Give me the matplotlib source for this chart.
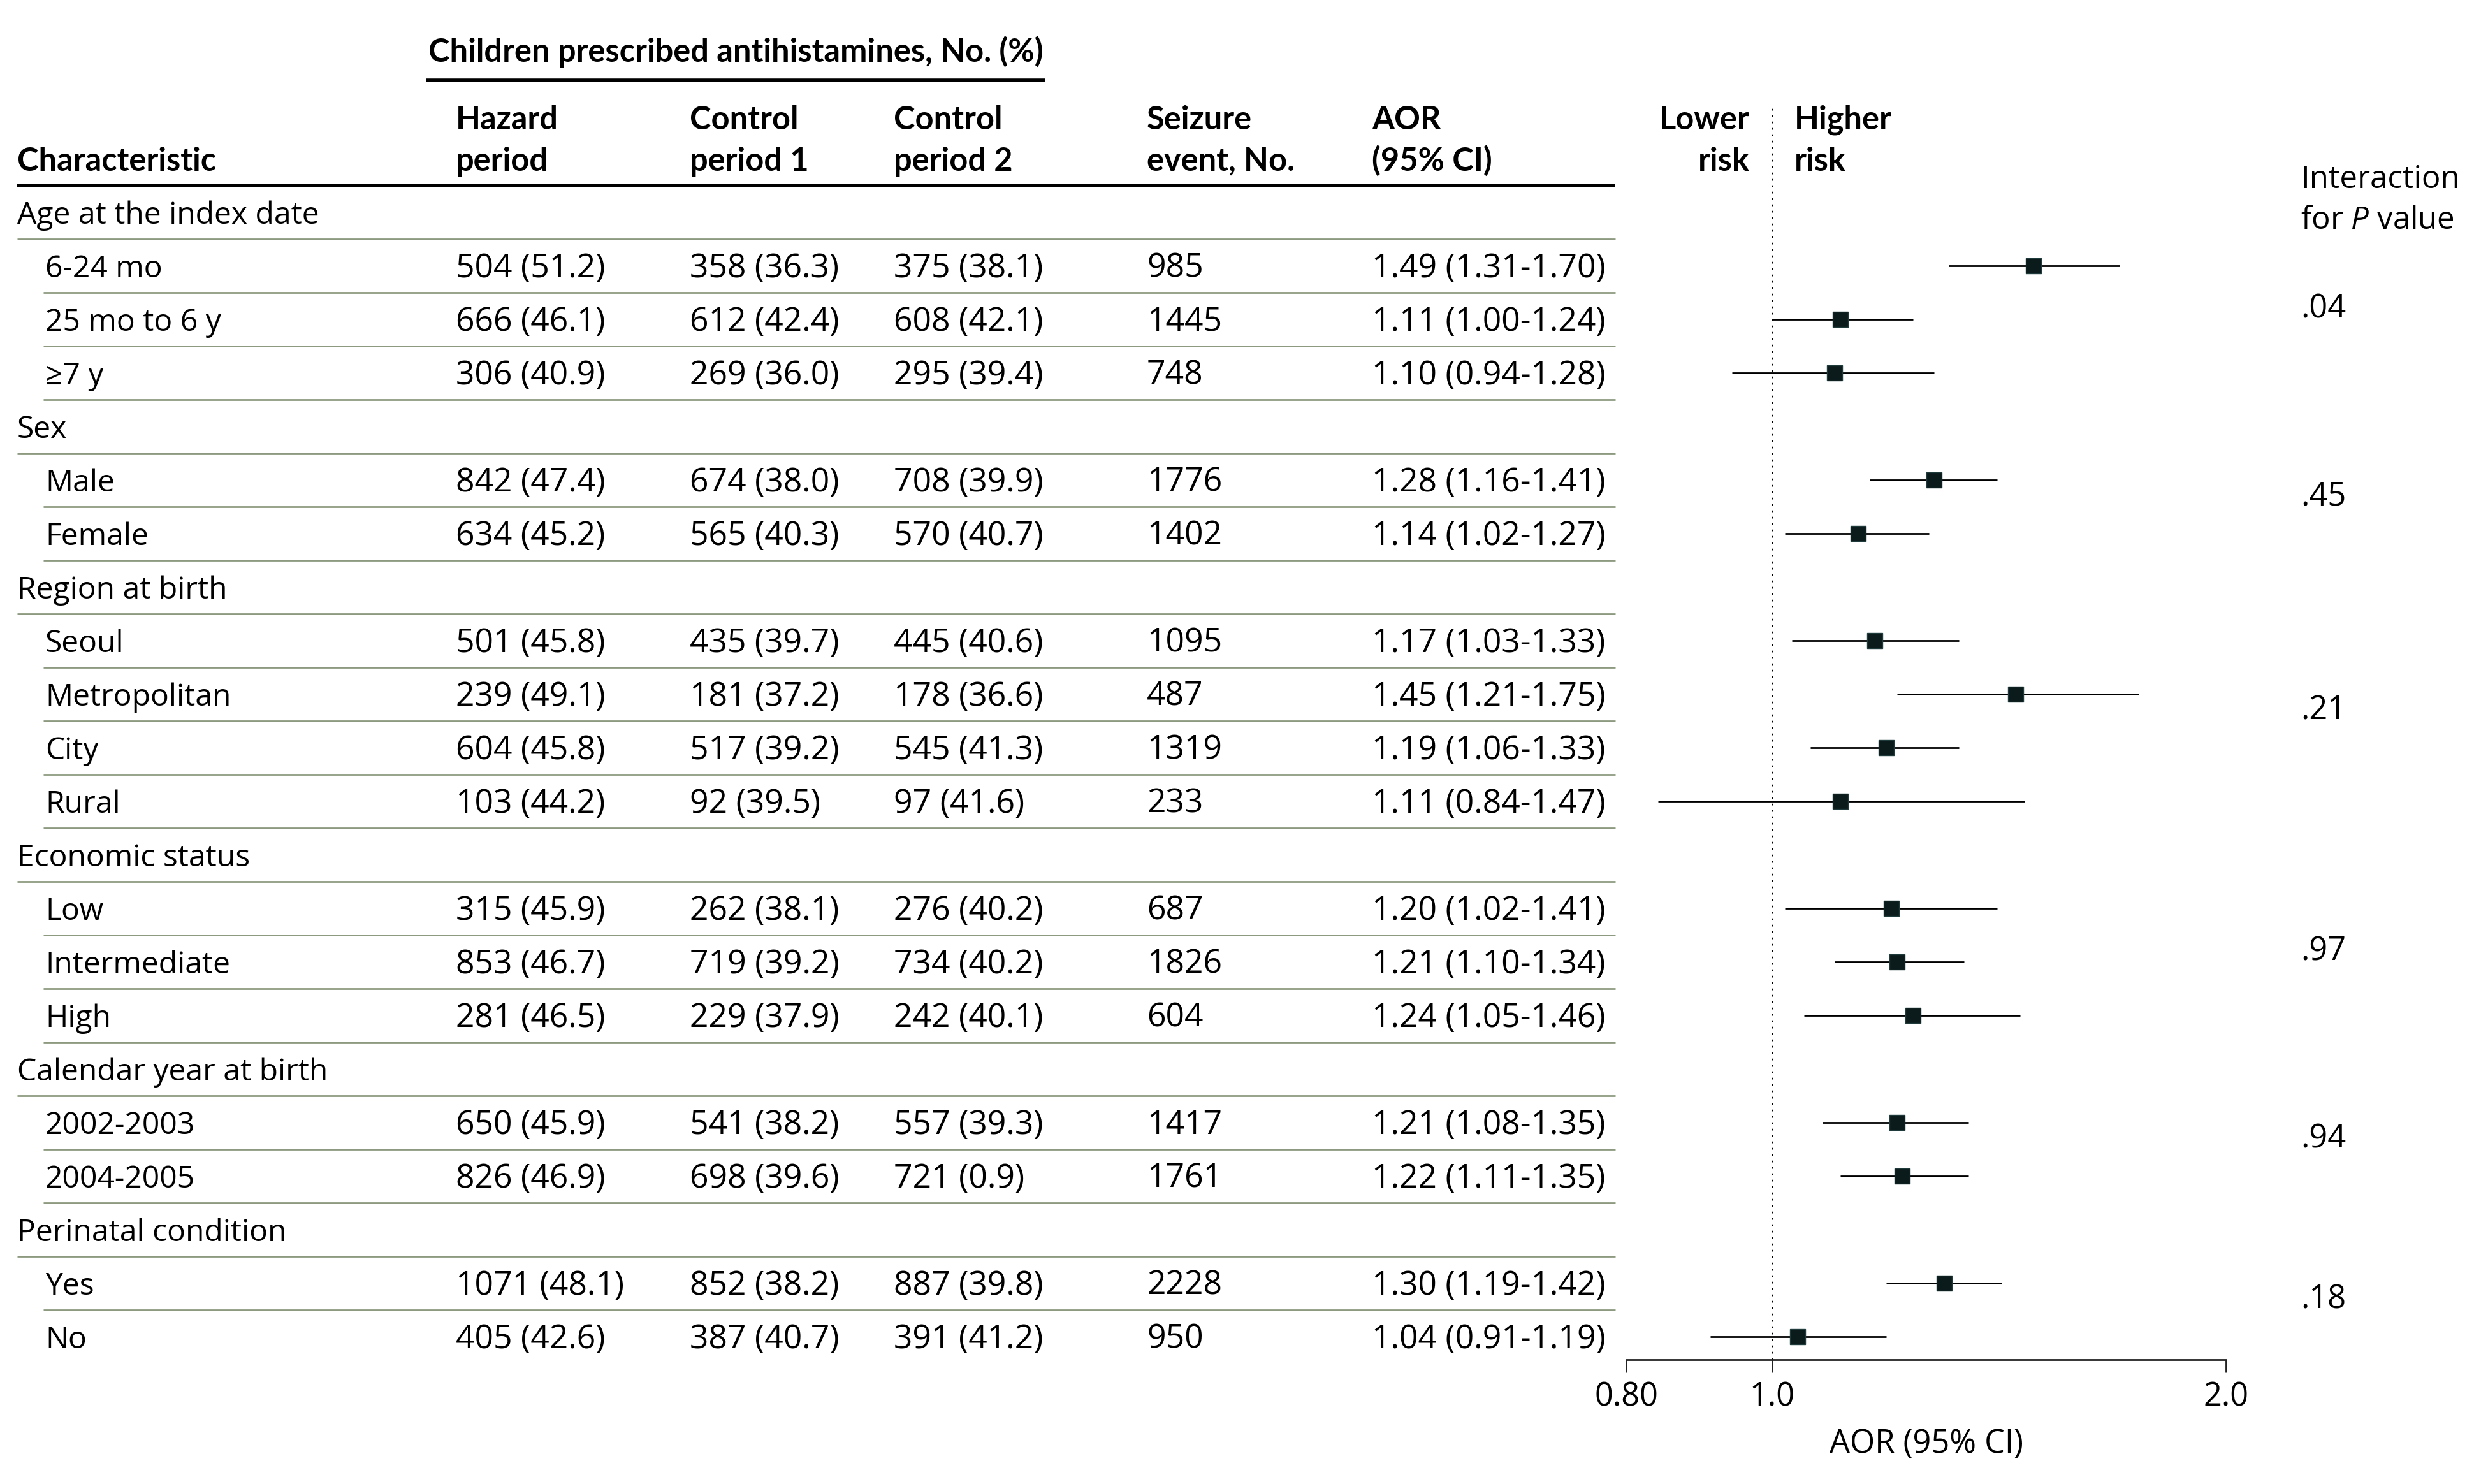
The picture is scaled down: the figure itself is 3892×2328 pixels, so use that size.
import matplotlib
matplotlib.use("Agg")
import matplotlib.pyplot as plt
from matplotlib.ticker import NullLocator, FixedLocator, FixedFormatter

plt.rcParams['font.family'] = ['Open Sans', 'DejaVu Sans']
plt.rcParams['mathtext.fontset'] = 'custom'
plt.rcParams['mathtext.rm'] = 'Open Sans'
plt.rcParams['mathtext.it'] = 'Open Sans:italic'

# ---------------- data ----------------
sections = ["Age at the index date", "Sex", "Region at birth", "Economic status",
            "Calendar year at birth", "Perinatal condition"]
subgroups = [["6-24 mo", "25 mo to 6 y", "≥7 y"],
             ["Male", "Female"],
             ["Seoul", "Metropolitan", "City", "Rural"],
             ["Low", "Intermediate", "High"],
             ["2002-2003", "2004-2005"],
             ["Yes", "No"]]
hazard_n = [504, 666, 306, 842, 634, 501, 239, 604, 103, 315, 853, 281, 650, 826, 1071, 405]
hazard_pct = [51.2, 46.1, 40.9, 47.4, 45.2, 45.8, 49.1, 45.8, 44.2, 45.9, 46.7, 46.5, 45.9, 46.9, 48.1, 42.6]
control1_n = [358, 612, 269, 674, 565, 435, 181, 517, 92, 262, 719, 229, 541, 698, 852, 387]
control1_pct = [36.3, 42.4, 36.0, 38.0, 40.3, 39.7, 37.2, 39.2, 39.5, 38.1, 39.2, 37.9, 38.2, 39.6, 38.2, 40.7]
control2_n = [375, 608, 295, 708, 570, 445, 178, 545, 97, 276, 734, 242, 557, 721, 887, 391]
control2_pct = [38.1, 42.1, 39.4, 39.9, 40.7, 40.6, 36.6, 41.3, 41.6, 40.2, 40.2, 40.1, 39.3, 0.9, 39.8, 41.2]
seizure_events = [985, 1445, 748, 1776, 1402, 1095, 487, 1319, 233, 687, 1826, 604, 1417, 1761, 2228, 950]
aor = [1.49, 1.11, 1.10, 1.28, 1.14, 1.17, 1.45, 1.19, 1.11, 1.20, 1.21, 1.24, 1.21, 1.22, 1.30, 1.04]
ci_low = [1.31, 1.00, 0.94, 1.16, 1.02, 1.03, 1.21, 1.06, 0.84, 1.02, 1.10, 1.05, 1.08, 1.11, 1.19, 0.91]
ci_high = [1.70, 1.24, 1.28, 1.41, 1.27, 1.33, 1.75, 1.33, 1.47, 1.41, 1.34, 1.46, 1.35, 1.35, 1.42, 1.19]
p_interaction = [".04", ".45", ".21", ".97", ".94", ".18"]
xticks = [0.8, 1.0, 2.0]
xticklabels = ["0.80", "1.0", "2.0"]

# ---------------- layout (pixels) ----------------
W, H = 3892, 2328
DPI = 200
FS = 18.2
FS_LAB = 17.3
FS_NUM = 18.6
FS_INT = 17.7
BOLD_FAMILY = ['Lato', 'Open Sans', 'DejaVu Sans']
ROW0 = 332.6
PITCH = 84.0
BASE_OFF = 18.0
SEP_COLOR = '#8e9a80'
X_HDR, X_SUB = 27, 71
X_RIGHT = 2534
COL_X = [715, 1082, 1402, 1799, 2152]
X_PVAL = 3609


def yc(r):
    return ROW0 + PITCH * r


fig = plt.figure(figsize=(W / DPI, H / DPI), dpi=DPI)
ov = fig.add_axes([0, 0, 1, 1])
ov.set_xlim(0, W)
ov.set_ylim(H, 0)
ov.axis('off')


def txt(x, yb, s, **kw):
    kw.setdefault('fontsize', FS)
    ov.text(x, yb, s, va='baseline', color='black', **kw)


def btxt(x, yb, s, **kw):
    txt(x, yb, s, fontweight='bold', family=BOLD_FAMILY, **kw)


# header
btxt(672, 97, "Children prescribed antihistamines, No. (%)")
ov.plot([668, 1640], [126, 126], color='black', lw=2.0, solid_capstyle='butt')
hdr1 = ["Hazard", "Control", "Control", "Seizure", "AOR"]
hdr2 = ["period", "period 1", "period 2", "event, No.", "(95% CI)"]
for x, a, b in zip(COL_X, hdr1, hdr2):
    btxt(x, 203, a)
    btxt(x, 268, b)
btxt(X_HDR, 268, "Characteristic")
btxt(2745, 203, "Lower", ha='right')
btxt(2745, 268, "risk", ha='right')
btxt(2815, 203, "Higher")
btxt(2815, 268, "risk")
txt(X_PVAL, 295, "Interaction", fontsize=FS_INT)
txt(X_PVAL, 359, "for $P$ value", fontsize=FS_INT)
ov.plot([X_HDR, X_RIGHT], [yc(0) - 42, yc(0) - 42], color='black', lw=2.0, solid_capstyle='butt')

# table body
r = 0
k = 0
rows_idx = []
n_total = sum(len(s) for s in subgroups)
for si, (sec, subs) in enumerate(zip(sections, subgroups)):
    txt(X_HDR, yc(r) + BASE_OFF, sec, fontsize=FS_LAB)
    ov.plot([X_HDR, X_RIGHT], [yc(r) + 42] * 2, color=SEP_COLOR, lw=1.0, solid_capstyle='butt')
    first = r + 1
    r += 1
    for lab in subs:
        yb = yc(r) + BASE_OFF
        txt(X_SUB, yb, lab, fontsize=FS_LAB)
        txt(COL_X[0], yb, f"{hazard_n[k]} ({hazard_pct[k]:.1f})", fontsize=FS_NUM)
        txt(COL_X[1], yb, f"{control1_n[k]} ({control1_pct[k]:.1f})", fontsize=FS_NUM)
        txt(COL_X[2], yb, f"{control2_n[k]} ({control2_pct[k]:.1f})", fontsize=FS_NUM)
        txt(COL_X[3], yb, f"{seizure_events[k]}", fontsize=FS_NUM)
        txt(COL_X[4], yb, f"{aor[k]:.2f} ({ci_low[k]:.2f}-{ci_high[k]:.2f})", fontsize=FS_NUM)
        if k < n_total - 1:
            ov.plot([68, X_RIGHT], [yc(r) + 42] * 2, color=SEP_COLOR, lw=1.0, solid_capstyle='butt')
        rows_idx.append(r)
        r += 1
        k += 1
    last = r - 1
    pc = (yc(first) + yc(last)) / 2 - 20
    txt(X_PVAL, pc + BASE_OFF, p_interaction[si])

# ---------------- forest plot ----------------
AX_L, AX_R = 2551, 3492
AX_TOP, AX_BOT = 163, 2133
fa = fig.add_axes([AX_L / W, 1 - AX_BOT / H, (AX_R - AX_L) / W, (AX_BOT - AX_TOP) / H])
fa.patch.set_alpha(0)
fa.set_xscale('log')
fa.set_xlim(0.8, 2.0)
fa.set_ylim((AX_BOT - ROW0) / PITCH, (AX_TOP - ROW0) / PITCH)
for s in ['top', 'right', 'left']:
    fa.spines[s].set_visible(False)
fa.spines['bottom'].set_linewidth(1.0)
fa.spines['bottom'].set_color('#222222')
fa.set_yticks([])
fa.xaxis.set_major_locator(FixedLocator(xticks))
fa.xaxis.set_major_formatter(FixedFormatter(xticklabels))
fa.xaxis.set_minor_locator(NullLocator())
fa.tick_params(axis='x', direction='out', length=7.2, width=1.0, pad=5.0,
               labelsize=FS, color='#222222')
fa.set_xlabel("AOR (95% CI)", fontsize=FS, labelpad=8)

fa.axvline(1.0, color='black', lw=1.0, linestyle=(0, (1, 2.6)), zorder=1)
fa.hlines(rows_idx, ci_low, ci_high, color='black', lw=1.0, zorder=2, clip_on=False)
fa.plot(aor, rows_idx, linestyle='none', marker='s', ms=8.4, mfc='#0b1a1a',
        mec='#1f3b3b', mew=0.5, zorder=3, clip_on=False)

fig.savefig("out.png", dpi=DPI)
